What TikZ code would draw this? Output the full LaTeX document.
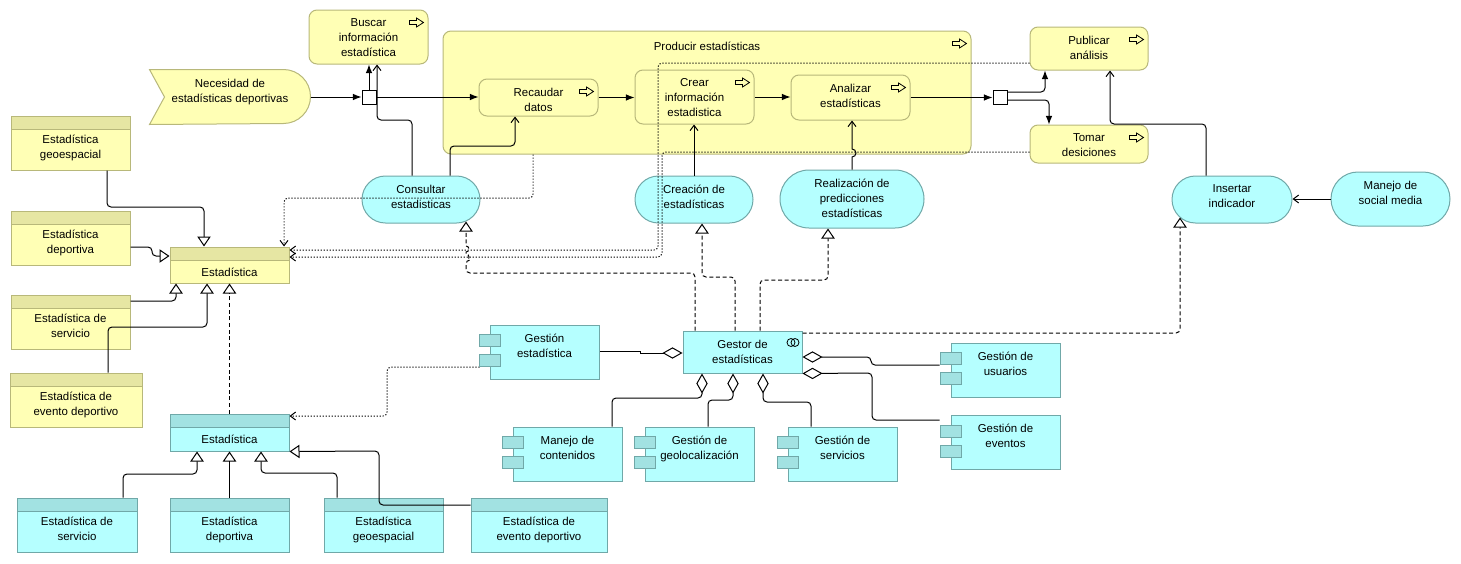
\documentclass[tikz,border=0pt]{standalone}
\usepackage{fontspec}
\setmainfont{Liberation Sans}
\usetikzlibrary{arrows.meta}
\begin{document}
\begin{tikzpicture}[x=0.75pt, y=-0.75pt, line width=0.75pt,
  every node/.style={inner sep=0pt, font=\fontsize{8.6}{11.25}\selectfont},
  wh/.style 2 args={minimum width=#1*\pixel, minimum height=#2*\pixel},
  txt/.style={align=center, anchor=north, yshift=-6.6pt, execute at begin node=\strut},
  hdr/.style 2 args={path picture={\fill[#1] (path picture bounding box.north west) rectangle ([yshift=-9.75pt]path picture bounding box.north east); \draw[#2] ([yshift=-9.75pt]path picture bounding box.north west) -- ([yshift=-9.75pt]path picture bounding box.north east);}},
  proc/.style={draw=bline, fill=byel, rounded corners=6pt, label={[txt]north:#1}},
  svc/.style={draw=aline, fill=acyan, rounded corners=17.6pt, label={[txt]north:#1}},
  bobj/.style={draw=bline, fill=byel, hdr={bhead}{bline}, label={[txt, yshift=-7.8pt]north:#1}},
  dobj/.style={draw=aline, fill=acyan, hdr={ahead}{aline}, label={[txt, yshift=-7.8pt]north:#1}},
  comp/.style={draw=aline, fill=acyan, label={[txt]north:#1}},
  comptab/.style={draw=aline, fill=ahead},
  jn/.style={draw=black, fill=white, minimum size=14*\pixel},
  icon/.style={draw=black, line width=0.6pt},
  trig/.style={-{Latex[length=6.5pt, width=5pt]}, rounded corners=3pt},
  serv/.style={-{Straight Barb[length=4pt, width=6pt]}, rounded corners=3pt},
  acc/.style={serv, dash pattern=on 0.9pt off 1.35pt},
  realz/.style={-{Triangle[open, length=7.5pt, width=10pt]}, dash pattern=on 3pt off 2pt, rounded corners=3pt},
  spec/.style={-{Triangle[open, length=7.5pt, width=10pt]}, rounded corners=3pt},
  aggr/.style={{Diamond[open, length=15pt, width=8.5pt]}-, rounded corners=3pt}]
\pgfmathsetlengthmacro\pixel{0.75pt}
\definecolor{byel}{RGB}{255,255,181}
\definecolor{bline}{RGB}{184,184,122}
\definecolor{bhead}{RGB}{230,230,163}
\definecolor{acyan}{RGB}{181,255,255}
\definecolor{aline}{RGB}{112,168,168}
\definecolor{ahead}{RGB}{162,226,226}
\useasboundingbox (0,0) rectangle (1461,564);

\node[proc={Producir estadísticas}, wh={528}{123}] (prod) at (707,92.5) {};
\node[proc={Buscar\\información\\estadística}, wh={119}{54}] (busc) at (368.5,37) {};
\node[proc={Recaudar\\datos}, wh={119}{37}] (recau) at (538.5,97.5) {};
\node[proc={Crear\\información\\estadistica}, wh={119}{54}] (crear) at (694.5,97) {};
\node[proc={Analizar\\estadísticas}, wh={119}{45}] (anal) at (850.5,97.5) {};
\node[proc={Publicar\\análisis}, wh={118}{43}] (publ) at (1089,48.5) {};
\node[proc={Tomar\\desiciones}, wh={118}{38}] (tomar) at (1089,144) {};
\foreach \p in {prod,busc,recau,crear,anal,publ,tomar}
  \draw[icon] ([xshift=-12*\pixel, yshift=-13*\pixel]\p.north east) ++(-7,-2) -- ++(7,0) -- ++(0,-2.5) -- ++(7,4.5) -- ++(-7,4.5) -- ++(0,-2.5) -- ++(-7,0) -- cycle;

\node[wh={160}{54}] (nec) at (230,97) {};
\draw[draw=bline, fill=byel] (nec.north west) -- ([xshift=-20.25pt]nec.north east) arc[start angle=90, end angle=-90, radius=20.25pt] -- (nec.south west) -- ([xshift=15*\pixel]nec.west) -- cycle;
\node[txt] (nect) at (nec.north) {Necesidad de\\estadísticas deportivas};
\node[jn] (j1) at (369,97) {};
\node[jn] (j2) at (1000,97) {};

\node[svc={Consultar\\estadisticas}, wh={118}{47}] (cons) at (421,199.5) {};
\node[svc={Creación de\\estadísticas}, wh={118}{47}] (crea) at (694,199.5) {};
\node[svc={Realización de\\predicciones\\estadísticas}, wh={144}{58}, rounded corners=21.7pt] (pred) at (852,199) {};
\node[svc={Insertar\\indicador}, wh={120}{47}] (ins) at (1232,199.5) {};
\node[svc={Manejo de\\social media}, wh={119}{54}, rounded corners=20.2pt] (soc) at (1390.5,199) {};

\node[bobj={Estadística\\geoespacial}, wh={119}{54}] (bgeo) at (70.5,143) {};
\node[bobj={Estadística\\deportiva}, wh={119}{54}] (bdep) at (70.5,238) {};
\node[bobj={Estadística}, wh={119}{36}] (best) at (229.5,265) {};
\node[bobj={Estadística de\\servicio}, wh={119}{54}] (bser) at (70.5,322) {};
\node[bobj={Estadística de\\evento deportivo}, wh={132}{54}] (bevt) at (76,400) {};
\node[dobj={Estadística}, wh={119}{37}] (dest) at (229.5,432.5) {};
\node[dobj={Estadística de\\servicio}, wh={120}{54}] (dser) at (77,525) {};
\node[dobj={Estadística\\deportiva}, wh={119}{54}] (ddep) at (229.5,525) {};
\node[dobj={Estadística\\geoespacial}, wh={119}{54}] (dgeo) at (383.5,525) {};
\node[dobj={Estadística de\\evento deportivo}, wh={136}{54}] (devt) at (539,525) {};

\node[comp={Gestión\\estadística}, wh={109}{54}] (gest) at (544.5,352) {};
\node[comp={Gestor de\\estadísticas}, wh={119}{42}] (gestor) at (742.5,352) {};
\node[comp={Gestión de\\usuarios}, wh={109}{54}] (gusu) at (1005.5,370) {};
\node[comp={Gestión de\\eventos}, wh={109}{54}] (geve) at (1005.5,442.5) {};
\node[comp={Manejo de\\contenidos}, wh={109}{54}] (mcon) at (567.5,454) {};
\node[comp={Gestión de\\geolocalización}, wh={109}{54}] (ggeo) at (699.5,454) {};
\node[comp={Gestión de\\servicios}, wh={109}{54}] (gser) at (842.5,454) {};
\draw[icon] ([xshift=-11.5*\pixel, yshift=-12*\pixel]gestor.north east) circle[radius=3pt];
\draw[icon] ([xshift=-7.5*\pixel, yshift=-12*\pixel]gestor.north east) circle[radius=3pt];

\draw[trig] (nec.east) -- (j1.west);
\draw[trig] (j1.north) -- (j1.north |- busc.south);
\draw[trig] (j1.east) -- (j1.east -| recau.west);
\draw[trig] (recau.east) -- (recau.east -| crear.west);
\draw[trig] (crear.east) -- (crear.east -| anal.west);
\draw[trig] (anal.east) -- (anal.east -| j2.west);
\draw[trig] ([yshift=3.75pt]j2.east) -| (1045,0 |- publ.south);
\draw[trig] ([yshift=-2.25pt]j2.east) -| (1049,0 |- tomar.north);

\draw[serv] (412,0 |- cons.north) -- (412,120) -- (377,120) -- (377,0 |- busc.south);
\draw[serv] (450,0 |- cons.north) -- (450,146) -- (515,146) -- (515,0 |- recau.south);
\draw[serv] (crea.north) -- (crea.north |- crear.south);
\draw[serv, sharp corners] (pred.north) -- (852,157) arc[start angle=-90, end angle=90, radius=3pt] -- (pred.north |- anal.south);
\draw[serv] (soc.west) -- (soc.west -| ins.east);
\draw[serv] (1206,0 |- ins.north) -- (1206,124) -- (1110,124) -- (1110,0 |- publ.south);

\draw[acc] (533,0 |- prod.south) -- (533,198) -- (284,198) -- (284,0 |- best.north);
\draw[acc] (publ.west |- 0,63) -- (658,63) -- (658,250) -- (best.east |- 0,250);
\draw[acc] (tomar.west |- 0,152) -- (662,152) -- (662,257) -- (best.east |- 0,257);
\draw[acc] ([xshift=-10*\pixel]gest.west |- 0,367) -- (387,367) -- (387,416) -- (dest.east |- 0,416);

\draw[realz] (695,0 |- gestor.north) -- (695,273) -- (466,273) -- (466,260) [sharp corners] arc[start angle=-90, end angle=90, radius=2.25pt] -- (466,252) arc[start angle=-90, end angle=90, radius=2.25pt] -- ([yshift=1.5pt]466,0 |- cons.south);
\draw[realz] (735,0 |- gestor.north) -- (735,277) -- (702,277) -- (702,0 |- crea.south);
\draw[realz] (760,0 |- gestor.north) -- (760,280) -- (828,280) -- (828,0 |- pred.south);
\draw[realz] (gestor.east |- 0,333) -- (1180,333) -- ([yshift=4.5pt]1180,0 |- ins.south);
\draw[realz] (dest.north) -- (best.south);

\draw[spec] (107,0 |- bgeo.south) -- (107,207) -- (204,207) -- (204,0 |- best.north);
\draw[spec] (bdep.east |- 0,247) -- (152,247) -- (152,256) -- (best.west |- 0,256);
\draw[spec] (bser.east |- 0,301) -| (176,0 |- best.south);
\draw[spec] (108,0 |- bevt.north) -- (108,327) -- (207,327) -- (207,0 |- best.south);
\draw[spec] (123,0 |- dser.north) -- (123,474) -- (197,474) -- (197,0 |- dest.south);
\draw[spec] (ddep.north) -- (dest.south);
\draw[spec] (337,0 |- dgeo.north) -- (337,473) -- (261,473) -- (261,0 |- dest.south);
\draw[spec] (devt.west |- 0,505) -- (379,505) -- (379,451) -- (dest.south east);

\draw[aggr, sharp corners] (gestor.west |- 0,353) -- (640,353) -- (640,351) -- (gest.east |- 0,351);
\draw[aggr] (702,0 |- gestor.south) -- (702,398) -- (612,398) -- (612,0 |- mcon.north);
\draw[aggr] (733,0 |- gestor.south) -- (733,400) -- (708,400) -- (708,0 |- ggeo.north);
\draw[aggr] (763,0 |- gestor.south) -- (763,402) -- (811,402) -- (811,0 |- gser.north);
\draw[aggr] (gestor.east |- 0,357) -- (871,357) -- (871,365) -- ([xshift=-11*\pixel]gusu.west |- 0,365);
\draw[aggr] (gestor.south east) -- (872,373) -- (872,420) -- ([xshift=-11*\pixel]geve.west |- 0,420);

\foreach \c in {gest,gusu,geve,mcon,ggeo,gser} {
  \filldraw[comptab] ([xshift=-10*\pixel, yshift=-10*\pixel]\c.north west) rectangle ++(21,12);
  \filldraw[comptab] ([xshift=-10*\pixel, yshift=-30*\pixel]\c.north west) rectangle ++(21,12);
}
\end{tikzpicture}
\end{document}
